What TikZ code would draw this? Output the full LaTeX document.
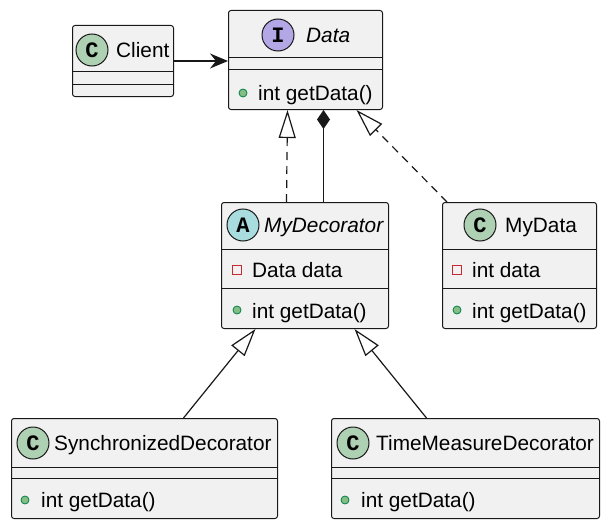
\documentclass[tikz,border=0pt]{standalone}
\usepackage{fontspec}
\setmainfont{Liberation Sans}
\newfontfamily\badgefont{Liberation Mono}
\usetikzlibrary{arrows.meta,positioning,calc}
\definecolor{boxfill}{HTML}{F1F1F1}
\definecolor{linecol}{HTML}{181818}
\definecolor{classcirc}{HTML}{ADD1B2}
\definecolor{ifacecirc}{HTML}{B4A7E5}
\definecolor{abstcirc}{HTML}{A9DCDF}
\definecolor{pubfill}{HTML}{84BE84}
\definecolor{publine}{HTML}{038048}
\definecolor{privline}{HTML}{C82930}

\begin{document}
\begin{tikzpicture}
[x=1pt, y=-1pt, font=\fontsize{20.8}{24}\selectfont,
% STYLES
% The classbox style is used to draw the frame of each class
classbox/.style={rectangle, draw=linecol, fill=boxfill, line width=1pt, rounded corners=2.5pt, inner sep=0pt, anchor=north west},
sep/.style={draw=linecol, line width=1pt},
% The badge style is used to draw the letter in the circle
badge/.style={circle, draw=linecol, line width=1pt, minimum size=32pt, inner sep=0pt, font=\fontsize{22}{22}\selectfont\badgefont\bfseries},
member/.style={anchor=base west, inner sep=0pt},
pub/.style={circle, draw=publine, fill=pubfill, minimum size=8pt, inner sep=0pt, line width=0.8pt},
priv/.style={rectangle, draw=privline, minimum size=9pt, inner sep=0pt, line width=0.9pt},
link/.style={draw=linecol, line width=1.2pt},
realize/.style={link, dashed, dash pattern=on 8pt off 6pt, -{Triangle[open, fill=white, length=28pt, width=17pt]}},
extend/.style={link, -{Triangle[open, fill=white, length=28pt, width=17pt]}}]

\useasboundingbox (0,0) rectangle (608,527);

% Draw classes
\node [classbox, minimum width=101pt, minimum height=71pt] (client) at (72,25) {};
\node [classbox, minimum width=154pt, minimum height=99pt] (data) at (228,10) {};
\node [classbox, minimum width=167pt, minimum height=126pt] (mydecorator) at (221,202) {};
\node [classbox, minimum width=154pt, minimum height=126pt] (mydata) at (442,202) {};
\node [classbox, minimum width=266pt, minimum height=100pt] (sync) at (11,418) {};
\node [classbox, minimum width=268pt, minimum height=100pt] (timemeasure) at (331,418) {};

% Compartments
\draw [sep] ([yshift=-47pt]client.north west) -- ([yshift=-47pt]client.north east);
\draw [sep] ([yshift=-60pt]client.north west) -- ([yshift=-60pt]client.north east);
\draw [sep] ([yshift=-48pt]data.north west) -- ([yshift=-48pt]data.north east);
\draw [sep] ([yshift=-60pt]data.north west) -- ([yshift=-60pt]data.north east);
\draw [sep] ([yshift=-47pt]mydecorator.north west) -- ([yshift=-47pt]mydecorator.north east);
\draw [sep] ([yshift=-86pt]mydecorator.north west) -- ([yshift=-86pt]mydecorator.north east);
\draw [sep] ([yshift=-47pt]mydata.north west) -- ([yshift=-47pt]mydata.north east);
\draw [sep] ([yshift=-86pt]mydata.north west) -- ([yshift=-86pt]mydata.north east);
\draw [sep] ([yshift=-49pt]sync.north west) -- ([yshift=-49pt]sync.north east);
\draw [sep] ([yshift=-60pt]sync.north west) -- ([yshift=-60pt]sync.north east);
\draw [sep] ([yshift=-49pt]timemeasure.north west) -- ([yshift=-49pt]timemeasure.north east);
\draw [sep] ([yshift=-60pt]timemeasure.north west) -- ([yshift=-60pt]timemeasure.north east);

%%%%%%%%%%%%%%%
% Headers

% client
\node [badge, fill=classcirc] (client-badge) at (92,50) {C};
\node [member] (client-name) at (116,57.5) {Client};

% data
\node [badge, fill=ifacecirc] (data-badge) at (278,35) {I};
\node [member, font=\fontsize{20.8}{24}\selectfont\itshape] (data-name) at (306,42.5) {Data};

% mydecorator
\node [badge, fill=abstcirc] (mydecorator-badge) at (243,225) {A};
\node [member, font=\fontsize{20.8}{24}\selectfont\itshape] (mydecorator-name) at (264,232.5) {MyDecorator};

% mydata
\node [badge, fill=classcirc] (mydata-badge) at (480,225) {C};
\node [member] (mydata-name) at (505,232.5) {MyData};

% sync
\node [badge, fill=classcirc] (sync-badge) at (33,443) {C};
\node [member] (sync-name) at (54,450.5) {SynchronizedDecorator};

% timemeasure
\node [badge, fill=classcirc] (timemeasure-badge) at (353,443) {C};
\node [member] (timemeasure-name) at (376,450.5) {TimeMeasureDecorator};

%%%%%%%%%%%%%%%
% Members
\node [pub] at (243,93) {};
\node [member] (data-get) at (258,100) {int getData()};

\node [priv] at (237,270) {};
\node [member] (mydecorator-field) at (252,277) {Data data};
\node [pub] at (237,310) {};
\node [member] (mydecorator-get) at (252,318) {int getData()};

\node [priv] at (457,270) {};
\node [member] (mydata-field) at (472,277) {int data};
\node [pub] at (457,310) {};
\node [member] (mydata-get) at (472,318) {int getData()};

\node [pub] at (25,500) {};
\node [member] (sync-get) at (41,507) {int getData()};

\node [pub] at (345,500) {};
\node [member] (timemeasure-get) at (361,507) {int getData()};

%%%%%%%%%%%%%%%
% Draw the links between classes
\draw [link, -{Stealth[length=18pt, width=15pt, inset=6pt]}] (client.east) -- (client.east -| data.west);
\draw [realize] ([xshift=-18.5pt]mydecorator.north) -- ([xshift=-18pt]data.south);
\draw [link, {Diamond[length=19pt, width=13pt]}-] ([xshift=18pt]data.south) -- ([xshift=18.5pt]mydecorator.north);
\draw [realize] ([xshift=5pt]mydata.north west) -- ([xshift=51pt]data.south);
\draw [extend] ([xshift=39pt]sync.north) -- ([xshift=-49.5pt]mydecorator.south);
\draw [extend] ([xshift=-39pt]timemeasure.north) -- ([xshift=49.5pt]mydecorator.south);

\end{tikzpicture}
\end{document}
